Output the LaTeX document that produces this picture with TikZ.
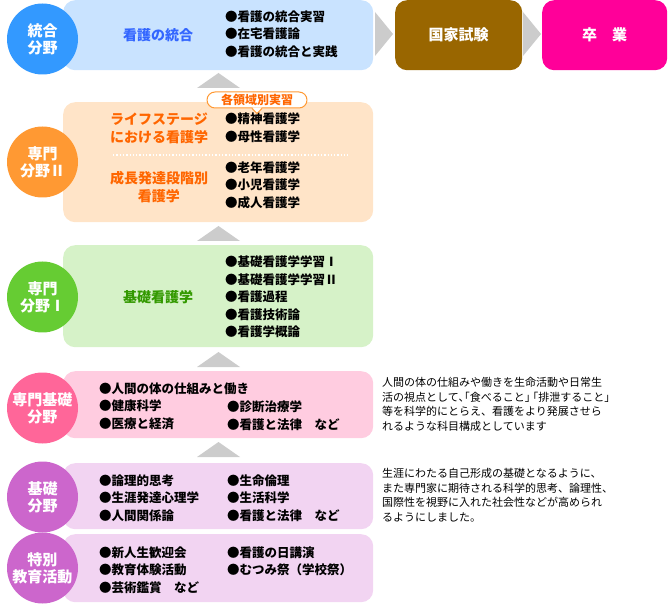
\documentclass[tikz,border=0pt]{standalone}
\usepackage{fontspec}
\setmainfont{Noto Sans CJK JP}
\definecolor{blueBg}{HTML}{C9E3FF}  \definecolor{blueDk}{HTML}{3399FF}  \definecolor{blueTx}{HTML}{3366FF}
\definecolor{orangeBg}{HTML}{FFE4C8}\definecolor{orangeDk}{HTML}{FF9933}\definecolor{orangeTx}{HTML}{FF6600}
\definecolor{greenBg}{HTML}{D6F2C8} \definecolor{greenDk}{HTML}{66CC33} \definecolor{greenTx}{HTML}{339900}
\definecolor{pinkBg}{HTML}{FFCCE0}  \definecolor{pinkDk}{HTML}{FF6699}
\definecolor{purpleBg}{HTML}{F2D4F2}\definecolor{purpleDk}{HTML}{CC66CC}
\definecolor{examBg}{HTML}{996600}  \definecolor{gradBg}{HTML}{FF0099}
\definecolor{arrowGray}{HTML}{CCCCCC}
\tikzset{
  panel/.style={fill=#1, rounded corners=12pt, minimum width=310pt, anchor=north west, inner sep=0pt},
  badge/.style={circle, fill=#1, minimum size=71pt, inner sep=0pt, text=white, align=center, font=\bfseries\fontsize{15}{17}\selectfont},
  goal/.style={fill=#1, rounded corners=12pt, minimum height=70pt, anchor=north west, inner sep=0pt, text=white, font=\bfseries\fontsize{15}{17}\selectfont},
  title/.style={text=#1, align=center, font=\bfseries\fontsize{14}{18}\selectfont},
  items/.style={anchor=west, align=left, inner sep=0pt, font=\bfseries\fontsize{12.5}{17.5}\selectfont},
  note/.style={anchor=north west, align=left, inner sep=0pt, font=\fontsize{11}{14.5}\selectfont}
}
\begin{document}
\begin{tikzpicture}[x=1pt, y=-1pt, line join=round]
	\useasboundingbox (0,0) rectangle (670,604);
	% panels
	\node[panel=blueBg, minimum height=70pt] (pTougou) at (63,0) {};
	\node[panel=orangeBg, minimum height=120pt] (pSenmon2) at (63,102) {};
	\node[panel=greenBg, minimum height=102pt] (pSenmon1) at (63,245) {};
	\node[panel=pinkBg, minimum height=67pt] (pSenKiso) at (63,371) {};
	\node[panel=purpleBg, minimum height=66pt] (pKiso) at (63,463) {};
	\node[panel=purpleBg, minimum height=68pt] (pTokubetsu) at (63,534) {};
	\node[goal=examBg, minimum width=127pt] (exam) at (395,0) {国家試験};
	\node[goal=gradBg, minimum width=125pt] (grad) at (542,0) {卒　業};
	% badges
	\node[badge=blueDk] (bTougou) at (42.5,39) {統合\\分野};
	\node[badge=orangeDk] (bSenmon2) at (42.5,162) {専門\\分野Ⅱ};
	\node[badge=greenDk] (bSenmon1) at (42.5,297) {専門\\分野Ⅰ};
	\node[badge=pinkDk] (bSenKiso) at (42.5,408) {専門基礎\\分野};
	\node[badge=purpleDk] (bKiso) at (42.5,497) {基礎\\分野};
	\node[badge=purpleDk] (bTokubetsu) at (42.5,568) {特別\\教育活動};
	% gray arrows
	\foreach \yb/\yt in {88/73, 241/226, 367/352, 457/442}
		\fill[arrowGray] (197,\yb)--(218.5,\yt)--(240,\yb)--cycle;
	\foreach \xa in {375,523}
		\fill[arrowGray] (\xa,12)--(\xa+18,34)--(\xa,56)--cycle;
	% titles
	\node[title=blueTx] (tTougou) at (158,35) {看護の統合};
	\node[title=orangeTx] (tLife) at (159,128) {ライフステージ\\における看護学};
	\node[title=orangeTx] (tGrowth) at (159,187) {成長発達段階別\\看護学};
	\node[title=greenTx] (tKiso) at (158,297) {基礎看護学};
	\draw[white, dotted, line width=1.3pt] (113,155) -- (348,155);
	% items
	\node[items] (iTougou) at (225,34) {●看護の統合実習\\●在宅看護論\\●看護の統合と実践};
	\node[items] (iLife) at (225,128) {●精神看護学\\●母性看護学};
	\node[items] (iGrowth) at (225,185) {●老年看護学\\●小児看護学\\●成人看護学};
	\node[items] (iKiso) at (225,297) {●基礎看護学学習Ⅰ\\●基礎看護学学習Ⅱ\\●看護過程\\●看護技術論\\●看護学概論};
	\node[items] (iSenKisoA) at (99,406) {●人間の体の仕組みと働き\\●健康科学\\●医療と経済};
	\node[items] (iSenKisoB) at (227,415.5) {●診断治療学\\●看護と法律　など};
	\node[items] (iKisoA) at (99,498) {●論理的思考\\●生涯発達心理学\\●人間関係論};
	\node[items] (iKisoB) at (227,498) {●生命倫理\\●生活科学\\●看護と法律　など};
	\node[items] (iTokuA) at (99,570) {●新人生歓迎会\\●教育体験活動\\●芸術鑑賞　など};
	\node[items] (iTokuB) at (227,561.5) {●看護の日講演\\●むつみ祭（学校祭）};
	% callout
	\node[draw=orangeDk, line width=1pt, fill=white, rounded corners=8pt, minimum width=100pt, minimum height=16pt, inner sep=0pt,
		text=orangeTx, font=\bfseries\fontsize{12}{12}\selectfont] (tag) at (257,100) {各領域別実習};
	\fill[white] ([xshift=-4.5pt, yshift=1pt]tag.south) -- ([xshift=4.5pt, yshift=1pt]tag.south) -- ([yshift=-4.5pt]tag.south) -- cycle;
	\draw[orangeDk, line width=1pt] ([xshift=-5pt]tag.south) -- ([yshift=-5pt]tag.south) -- ([xshift=5pt]tag.south);
	% notes
	\node[note] (nSenKiso) at (382,377.5) {人間の体の仕組みや働きを生命活動や日常生\\活の視点として､｢食べること｣ ｢排泄すること｣\\等を科学的にとらえ、看護をより発展させら\\れるような科目構成としています};
	\node[note] (nKiso) at (382,468.5) {生涯にわたる自己形成の基礎となるように、\\また専門家に期待される科学的思考、論理性、\\国際性を視野に入れた社会性などが高められ\\るようにしました。};
\end{tikzpicture}
\end{document}
